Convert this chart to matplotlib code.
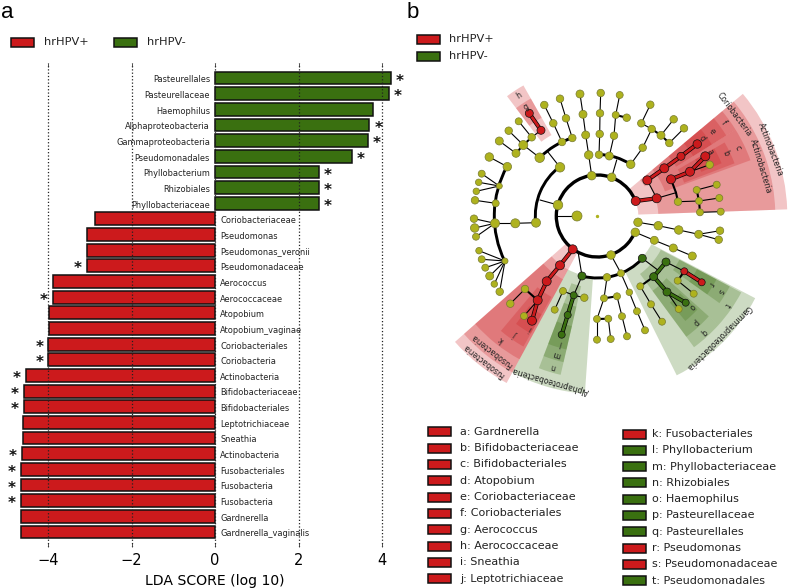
import numpy as np
import matplotlib
matplotlib.use('Agg')
import matplotlib.pyplot as plt
from matplotlib.patches import Rectangle, Wedge, Arc

RED = '#cc1a1c'
GREEN = '#3a7010'
OLIVE = '#aeb21e'

# ---- panel a
taxa = ['Pasteurellales', 'Pasteurellaceae', 'Haemophilus', 'Alphaproteobacteria',
        'Gammaproteobacteria', 'Pseudomonadales', 'Phyllobacterium', 'Rhizobiales',
        'Phyllobacteriaceae', 'Coriobacteriaceae', 'Pseudomonas', 'Pseudomonas_veronii',
        'Pseudomonadaceae', 'Aerococcus', 'Aerococcaceae', 'Atopobium', 'Atopobium_vaginae',
        'Coriobacteriales', 'Coriobacteria', 'Actinobacteria', 'Bifidobacteriaceae',
        'Bifidobacteriales', 'Leptotrichiaceae', 'Sneathia', 'Actinobacteria',
        'Fusobacteriales', 'Fusobacteria', 'Fusobacteria', 'Gardnerella', 'Gardnerella_vaginalis']
lda = [4.21, 4.16, 3.79, 3.70, 3.66, 3.27, 2.49, 2.49, 2.49, -2.87, -3.07, -3.07, -3.07,
       -3.89, -3.89, -3.98, -3.98, -3.99, -3.99, -4.53, -4.57, -4.57, -4.59, -4.61, -4.63,
       -4.64, -4.64, -4.64, -4.65, -4.65]
starred = [1, 1, 0, 1, 1, 1, 1, 1, 1, 0, 0, 0, 1, 0, 1, 0, 0, 1, 1, 1, 1, 1, 0, 0, 1, 1, 1, 1, 0, 0]
xticks_a = [-4, -2, 0, 2, 4]

# ---- panel b legend
clade_keys = ['a: Gardnerella', 'b: Bifidobacteriaceae', 'c: Bifidobacteriales', 'd: Atopobium',
              'e: Coriobacteriaceae', 'f: Coriobacteriales', 'g: Aerococcus', 'h: Aerococcaceae',
              'i: Sneathia', 'j: Leptotrichiaceae']
clade_keys2 = ['k: Fusobacteriales', 'l: Phyllobacterium', 'm: Phyllobacteriaceae', 'n: Rhizobiales',
               'o: Haemophilus', 'p: Pasteurellaceae', 'q: Pasteurellales', 'r: Pseudomonas',
               's: Pseudomonadaceae', 't: Pseudomonadales']
key_cols2 = 'rggggggrrg'

# ---- cladogram, all in picture pixels. centre of the tree:
cx, cy = 597.3, 216

# sectors: r0, r1, theta0, theta1, colour
sectors = [(41, 190, -40, -2, 'r'), (56, 178, -40, -32, 'r'), (61, 178, -32, -2, 'r'),
           (72, 163, -40, -32, 'r'), (93, 152, -40, -32, 'r'), (113, 135, -40, -32, 'r'),
           (72, 163, -32, -20, 'r'), (93, 147, -30, -21, 'r'), (113, 135, -30, -23, 'r'),
           (93, 150, -127, -119.5, 'r'), (113, 135, -127, -119.5, 'r'),
           (41, 190, 118.5, 138.5, 'r'), (61, 178, 118.5, 138.5, 'r'), (72, 163, 118.5, 138.5, 'r'),
           (93, 150, 119.5, 130, 'r'), (113, 135, 119.5, 127, 'r'),
           (61, 178, 94, 118.5, 'g'), (72, 163, 103, 111, 'g'), (93, 150, 103, 111, 'g'),
           (113, 137, 103, 111, 'g'),
           (61, 178, 27.5, 63.5, 'g'), (72, 163, 42, 53.6, 'g'), (93, 150, 42, 53.6, 'g'),
           (113, 137, 43, 50, 'g'), (72, 163, 28, 42, 'g'), (93, 150, 28, 35.5, 'g'),
           (113, 135, 28, 35.5, 'g')]

# text, radius, angle
names_big = [('Actinobacteria', 185, -21), ('Actinobacteria', 171, -17), ('Coriobacteria', 170, -36.6),
             ('Fusobacteria', 184, 128), ('Fusobacteria', 171, 128),
             ('Alphaproteobacteria', 171, 106), ('Gammaproteobacteria', 171, 45)]
letters = [('h', 143.6, -123), ('g', 130, -123), ('f', 157, -36.4), ('e', 143, -36.5), ('d', 131, -36.5),
           ('c', 156, -26), ('b', 143, -26), ('a', 130, -29.6), ('k', 157, 128), ('j', 144, 124.4),
           ('i', 131, 120.7), ('n', 157, 106.3), ('m', 144, 106.4), ('l', 132, 106), ('q', 157, 47.5),
           ('p', 144, 47.2), ('o', 131, 43.9), ('t', 157.6, 34.4), ('s', 144, 31.4), ('r', 132, 31)]

# arcs: radius, theta0, theta1, line width
arcs = [(41, 23.2, 338.7, 2.4), (62, 173.8, 232.5, 2.1), (62, 43.2, 104.3, 2.1),
        (61.5, 271.6, 303, 2.1), (103, 154, 208.7, 2.1), (82, 225.3, 252.2, 2.1)]

# each clade: x, y, diameter (px), colour key, thin edges, thick edges
act_x = [635.7, 656.7, 647.3, 664.3, 681, 697.3, 671, 690, 705.3, 709.7, 678, 696.7, 716.7, 699, 719.3, 700, 720.7, 676]
act_y = [201, 198.3, 180.3, 168.3, 156.3, 144, 179.3, 171.7, 156.3, 164.7, 201.7, 190, 184.7, 201, 198, 212.3, 211.7, 192.7]
act_d = [9, 9, 9, 9, 8, 8.5, 9, 9, 9, 7.5, 7.5, 7, 7, 7, 7, 7, 7, 0]
act_c = 'rrrrrrrrryyyyyyyyy'
act_thin = [(1, 17), (7, 9), (10, 13), (11, 12), (13, 14), (15, 16), (1, 2)]
act_thick = [(0, 1), (2, 3), (3, 4), (4, 5), (6, 7), (7, 8), (6, 17), (17, 10), (13, 11), (13, 15)]

top_x = [591.7, 611.7, 588.7, 585.7, 583, 580, 599, 599.7, 600, 600.7, 609.3, 614, 615.7, 619.7, 626.7,
         630.7, 642.7, 651.7, 641.3, 650.3, 661, 673.7, 669.3, 684, 616.7]
top_y = [175.7, 177.3, 155, 135, 114.3, 94, 154.7, 134, 113.3, 93, 156, 135.7, 115, 95, 117.7,
         164.3, 147.7, 129, 123.3, 104.7, 135.3, 119.3, 143, 128.3, 160]
top_d = [8.5, 8.5, 8.5, 8, 8, 8, 7.5, 7.5, 7.5, 7.5, 8, 7.5, 7, 7, 7.5, 8.5, 7.5, 7.5, 7.5, 7.5, 8, 7.5, 7.5, 7.5, 0]
top_c = 'y' * 25
top_thin = [(0, 2), (2, 3), (3, 4), (4, 5), (6, 7), (7, 8), (8, 9), (10, 11), (11, 12), (12, 13), (1, 24),
            (15, 16), (16, 17), (17, 18), (18, 19), (20, 21), (22, 23)]
top_thick = [(12, 14), (17, 20), (20, 22)]

left_x = [558, 577, 557.3, 536, 515.3, 495, 560, 540, 539.7, 562, 572.3, 553.3, 544.3, 566, 560, 547.7,
          523.3, 516, 531.7, 541, 529.3, 518.7, 508.7, 499.3, 507.3, 489.3, 499.3, 481.7, 478.7, 476.3,
          495.7, 475, 474, 474.7, 476, 505, 479, 481.7, 485.3, 489.7, 494.3, 499.7]
left_y = [205, 216, 216, 222.7, 223.3, 223.3, 167.3, 200, 157.7, 142, 138, 123.3, 105, 118.3, 98.7, 151.7,
          145, 153.3, 137.3, 130.3, 113.3, 121.3, 130.7, 141, 166.7, 157, 186, 173.7, 182.3, 191.3,
          203.3, 200.3, 218.7, 228, 236.7, 261, 250.7, 259.3, 267.7, 276, 284, 291.7]
left_d = [9.5, 10, 0, 9, 9, 9, 9.5, 0, 9.5, 7.5, 7.5, 7.5, 7.5, 7.5, 7.5, 0,
          9, 8, 7.5, 8, 8, 7, 7.5, 8, 8.5, 8.5, 6, 7, 6.5, 6.5,
          7, 7.5, 7.5, 8.5, 7, 6, 6.5, 7, 7, 8, 6.5, 7.5]
left_c = 'y' * 19 + 'rr' + 'y' * 21
left_thin = [(0, 7), (2, 1), (3, 4), (4, 5), (6, 15), (8, 16), (18, 19), (18, 21), (16, 22), (17, 23), (24, 25),
             (26, 27), (26, 28), (26, 29), (30, 31), (5, 32), (5, 33), (5, 34), (9, 11), (11, 12), (10, 13), (13, 14),
             (35, 36), (35, 37), (35, 38), (35, 39), (35, 40), (35, 41)]
left_thick = [(16, 17), (16, 18), (19, 20)]

fuso_x = [572.7, 560, 546.7, 537.7, 532, 525, 510.3, 524]
fuso_y = [249.3, 265.3, 281.3, 300.3, 320.7, 289, 303.7, 316]
fuso_d = [9, 9, 9, 9, 9, 7.5, 7.5, 7]
fuso_c = 'rrrrryyy'
fuso_thin = [(5, 6), (3, 7)]
fuso_thick = [(0, 1), (1, 2), (2, 3), (3, 4), (3, 5)]

alpha_x = [582, 578.3, 573.7, 563, 554.7, 584.3, 567.7, 561.7]
alpha_y = [276, 253.3, 295.3, 291, 309.7, 297.7, 315, 334.7]
alpha_d = [8, 0, 7, 7, 7, 7.5, 7, 7]
alpha_c = 'gggyyygg'
alpha_thin = [(1, 0), (0, 2), (2, 3), (3, 4), (2, 5)]
alpha_thick = [(2, 6), (6, 7)]

mid_x = [611, 621, 607, 604, 597, 597, 617, 622, 627, 608.3, 610.7, 629.3, 637, 645]
mid_y = [255, 273.3, 277.3, 298.3, 319, 339.7, 296.3, 316.3, 336.3, 318.7, 339, 292.3, 311.3, 330.3]
mid_d = [8.5, 7, 7.5, 7, 7, 7, 7, 7, 7, 7, 7, 6.5, 7, 7]
mid_c = 'y' * 14
mid_thin = [(0, 1), (2, 3), (3, 4), (4, 5), (6, 7), (7, 8), (9, 10), (1, 11), (11, 12), (12, 13)]
mid_thick = [(3, 6), (4, 9)]

gam_x = [642.3, 653.7, 666, 684.3, 701.7, 677.7, 693.7, 640.3, 651, 662, 667, 685.7, 678.7, 660]
gam_y = [258.3, 276.7, 262, 271.3, 282.3, 280.7, 293.7, 286.3, 304.3, 321.7, 292, 302.7, 309, 271.7]
gam_d = [8, 8, 8, 7, 7, 7, 7, 7, 7, 7, 8, 7, 7, 0]
gam_c = 'gggrryyyyyggyy'
gam_thin = [(0, 13), (2, 3), (5, 6), (7, 8), (8, 9), (10, 12)]
gam_thick = [(1, 2), (3, 4), (3, 5), (1, 7), (1, 10), (10, 11)]

rgt_x = [635.3, 654.3, 673.3, 692.3, 638, 658.3, 678.7, 698.7, 720, 718.7]
rgt_y = [232.3, 240.3, 248, 256, 222.3, 225.7, 230, 234.3, 230.7, 239.7]
rgt_d = [8.5, 8, 8, 8, 8.5, 8.5, 8.5, 8, 7.5, 7.5]
rgt_c = 'y' * 10
rgt_thin = [(0, 1), (1, 2), (2, 3), (4, 5), (5, 6), (6, 7), (7, 8), (7, 9)]
rgt_thick = []

fig = plt.figure(figsize=(7.89, 5.88), dpi=100)
W, H = 789.0, 588.0

# bar panel
ax = fig.add_axes([18 / W, 1 - 547 / H, (400 - 18) / W, (547 - 63) / H])
ypos = np.arange(len(taxa))[::-1]
cols = [GREEN if v > 0 else RED for v in lda]
ax.barh(ypos, lda, height=0.82, color=cols, edgecolor='#111111', linewidth=1.1, zorder=2)
ax.set_xlim((18 - 215) / 41.75, (400 - 215) / 41.75)
ax.set_ylim(-0.96, 29.96)
ax.set_yticks([])
ax.set_xticks(xticks_a)
ax.tick_params(axis='x', direction='in', length=3, width=0.6, top=True, labelsize=10.5, pad=4, color='#333333')
ax.xaxis.grid(True, linestyle=':', color='#222222', linewidth=0.9, zorder=3)
ax.set_axisbelow(False)
for s in ax.spines.values():
    s.set_visible(False)
ax.set_xlabel('LDA SCORE (log 10)', fontsize=10.1)
ax.xaxis.set_label_coords(0.514, -0.056)
for y, name, v, st in zip(ypos, taxa, lda, starred):
    if v > 0:
        ax.text(-0.12, y - 0.12, name, ha='right', va='center', fontsize=5.95, color='#222222', zorder=4)
    else:
        ax.text(0.12, y - 0.12, name, ha='left', va='center', fontsize=5.95, color='#222222', zorder=4)
    if st:
        ax.text(v + (0.22 if v > 0 else -0.22), y - 0.2, '*', ha='center', va='center', fontsize=11,
                fontweight='bold', color='#111111', zorder=4)

# overlay in picture pixels for panel b and the legends
pa = fig.add_axes([0, 0, 1, 1], facecolor='none')
pa.set_xlim(0, W)
pa.set_ylim(H, 0)
pa.axis('off')


def swatch(x, y, col, w=23, h=9):
    pa.add_patch(Rectangle((x, y - h / 2), w, h, facecolor=col, edgecolor='#111111', linewidth=1.1))


pa.text(1, 12, 'a', fontsize=16, family='Liberation Sans', va='center', ha='left')
pa.text(407, 12, 'b', fontsize=16, family='Liberation Sans', va='center', ha='left')

swatch(11, 42, RED)
pa.text(44, 42, 'hrHPV+', fontsize=8.2, va='center', color='#222222')
swatch(114, 42, GREEN)
pa.text(147, 42, 'hrHPV-', fontsize=8.2, va='center', color='#222222')
swatch(417, 39, RED)
pa.text(449, 39, 'hrHPV+', fontsize=8.2, va='center', color='#222222')
swatch(417, 56, GREEN)
pa.text(449, 56, 'hrHPV-', fontsize=8.2, va='center', color='#222222')

for i, name in enumerate(clade_keys):
    swatch(428.5, 431.7 + 16.33 * i, RED)
    pa.text(460, 431.7 + 16.33 * i, name, fontsize=8.0, va='center', color='#222222')
for i, name in enumerate(clade_keys2):
    swatch(623.5, 434 + 16.3 * i, RED if key_cols2[i] == 'r' else GREEN)
    pa.text(651.7, 434 + 16.3 * i, name, fontsize=8.0, va='center', color='#222222')

for r0, r1, t0, t1, c in sectors:
    pa.add_patch(Wedge((cx, cy), r1, t0, t1, width=r1 - r0, facecolor=RED if c == 'r' else GREEN,
                       edgecolor='none', alpha=0.25, zorder=1))

for r, t0, t1, lw in arcs:
    pa.add_patch(Arc((cx, cy), 2 * r, 2 * r, theta1=t0, theta2=t1, color='black', linewidth=lw, zorder=2))

pa.scatter([cx], [cy], s=2, color=OLIVE, zorder=5)

COL = {'r': RED, 'g': GREEN, 'y': OLIVE}


def draw_clade(x, y, d, c, thin, thick):
    for i, j in thin + thick:
        hi = c[i] == c[j] and c[i] in 'rg' and (i, j) in thick
        lw = 2.0 if hi else (1.5 if (i, j) in thick else 0.8)
        col = COL[c[i]] if hi else 'black'
        if hi:
            pa.plot([x[i], x[j]], [y[i], y[j]], color='black', lw=lw + 1.0, zorder=3, solid_capstyle='round')
        pa.plot([x[i], x[j]], [y[i], y[j]], color=col, lw=lw, zorder=3, solid_capstyle='round')
    sizes = [(v * 0.72) ** 2 for v in d]
    edge = ['#111111' if k != 'y' else '#777a30' for k in c]
    pa.scatter(x, y, s=sizes, c=[COL[k] for k in c], edgecolors=edge, linewidths=0.5, zorder=4)


draw_clade(act_x, act_y, act_d, act_c, act_thin, act_thick)
draw_clade(top_x, top_y, top_d, top_c, top_thin, top_thick)
draw_clade(left_x, left_y, left_d, left_c, left_thin, left_thick)
draw_clade(fuso_x, fuso_y, fuso_d, fuso_c, fuso_thin, fuso_thick)
draw_clade(alpha_x, alpha_y, alpha_d, alpha_c, alpha_thin, alpha_thick)
draw_clade(mid_x, mid_y, mid_d, mid_c, mid_thin, mid_thick)
draw_clade(gam_x, gam_y, gam_d, gam_c, gam_thin, gam_thick)
draw_clade(rgt_x, rgt_y, rgt_d, rgt_c, rgt_thin, rgt_thick)

for name, r, t in names_big + letters:
    px = cx + r * np.cos(np.radians(t))
    py = cy + r * np.sin(np.radians(t))
    pa.text(px, py, name, rotation=-(t + 90), rotation_mode='anchor', ha='center', va='center',
            fontsize=5.6, color='#222222', zorder=6)

fig.savefig('out.png', dpi=100)
